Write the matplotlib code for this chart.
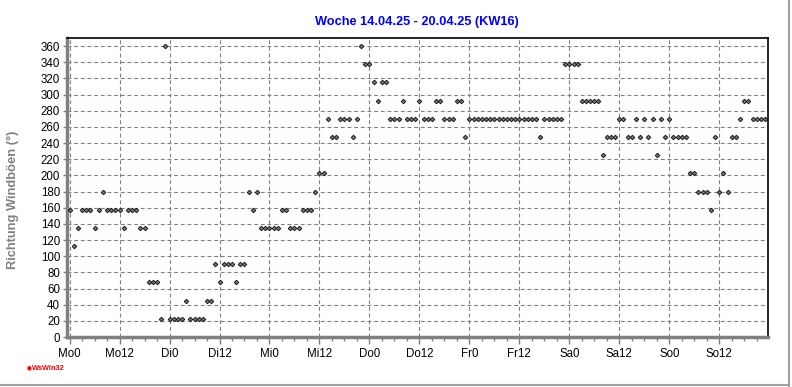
#!/usr/bin/env python3
"""
Weekly chart of gust wind direction (WsWin32 style).
"""
import numpy as np
import matplotlib
matplotlib.use('Agg')
import matplotlib.pyplot as plt
from matplotlib.lines import Line2D

plt.rcParams['font.family'] = ['Liberation Sans', 'DejaVu Sans']

title = 'Woche 14.04.25 - 20.04.25 (KW16)'
ylabel = 'Richtung Windböen (°)'

# hourly gust direction, Mo 0h .. So 23h
direction = [
    # Mo
    157.5, 112.5, 135, 157.5, 157.5, 157.5, 135, 157.5, 180, 157.5, 157.5, 157.5,
    157.5, 135, 157.5, 157.5, 157.5, 135, 135, 67.5, 67.5, 67.5, 22.5, 360,
    # Di
    22.5, 22.5, 22.5, 22.5, 45, 22.5, 22.5, 22.5, 22.5, 45, 45, 90,
    67.5, 90, 90, 90, 67.5, 90, 90, 180, 157.5, 180, 135, 135,
    # Mi
    135, 135, 135, 157.5, 157.5, 135, 135, 135, 157.5, 157.5, 157.5, 180,
    202.5, 202.5, 270, 247.5, 247.5, 270, 270, 270, 247.5, 270, 360, 337.5,
    # Do
    337.5, 315, 292.5, 315, 315, 270, 270, 270, 292.5, 270, 270, 270,
    292.5, 270, 270, 270, 292.5, 292.5, 270, 270, 270, 292.5, 292.5, 247.5,
    # Fr
    270, 270, 270, 270, 270, 270, 270, 270, 270, 270, 270, 270,
    270, 270, 270, 270, 270, 247.5, 270, 270, 270, 270, 270, 337.5,
    # Sa
    337.5, 337.5, 337.5, 292.5, 292.5, 292.5, 292.5, 292.5, 225, 247.5, 247.5, 247.5,
    270, 270, 247.5, 247.5, 270, 247.5, 270, 247.5, 270, 225, 270, 247.5,
    # So
    270, 247.5, 247.5, 247.5, 247.5, 202.5, 202.5, 180, 180, 180, 157.5, 247.5,
    180, 202.5, 180, 247.5, 247.5, 270, 292.5, 292.5, 270, 270, 270, 270,
]
hours = np.arange(len(direction))

tick_labels = ['Mo0', 'Mo12', 'Di0', 'Di12', 'Mi0', 'Mi12', 'Do0', 'Do12',
               'Fr0', 'Fr12', 'Sa0', 'Sa12', 'So0', 'So12']
yticks = list(range(0, 361, 20))

fig = plt.figure(figsize=(7.92, 3.87), dpi=100)
ax = fig.add_axes([67 / 792, 1 - 337 / 387, (768 - 67) / 792, (337 - 38) / 387])

ax.plot(hours, direction, linestyle='none', marker='D', markersize=2.3,
        markerfacecolor='#7a7a7a', markeredgecolor='#1a1a1a',
        markeredgewidth=0.7, zorder=3, clip_on=False)

ax.set_xlim(-0.62, 167.7)
ax.set_ylim(0, 370)

ax.set_xticks(np.arange(0, 168, 12))
ax.set_xticklabels(tick_labels)
ax.set_xticks(np.arange(0, 168, 3), minor=True)
ax.set_yticks(yticks)
ax.set_yticklabels([str(v) for v in yticks])

ax.tick_params(axis='x', which='major', direction='out', length=5, width=1,
               color='#808080', labelsize=8.3, pad=3)
ax.tick_params(axis='x', which='minor', direction='out', length=3, width=1,
               color='#808080')
ax.tick_params(axis='y', which='major', direction='out', length=3, width=1,
               color='#808080', labelsize=8.3, pad=2)

ax.grid(True, which='major', color='#808080', linestyle=(0, (3.5, 2.5)),
        linewidth=0.8)
ax.set_axisbelow(True)

for side in ['left', 'bottom']:
    ax.spines[side].set_color('#808080')
    ax.spines[side].set_linewidth(2.5)
for side in ['top', 'right']:
    ax.spines[side].set_color('black')
    ax.spines[side].set_linewidth(1.2)

fig.text(417 / 792, 1 - 22 / 387, title, color='#0000ff', fontsize=9.2,
         fontweight='bold', ha='center', va='center')
fig.text(13 / 792, 1 - 200 / 387, ylabel, color='#808080', fontsize=9.3,
         fontweight='bold', rotation=90, ha='center', va='center')

# WsWin32 marker bottom left
fig.text(29 / 792, 1 - 368 / 387, '\u25cf', color='#ff0000', fontsize=4,
         ha='center', va='center', family=['DejaVu Sans'])
fig.text(32 / 792, 1 - 368 / 387, 'WsWin32', color='#ff0000', fontsize=5.3,
         fontweight='bold', ha='left', va='center')

# window border
fig.add_artist(Line2D([0, 789 / 792], [1 - 385 / 387, 1 - 385 / 387],
                      transform=fig.transFigure, color='#a0a0a0', linewidth=1.5))
fig.add_artist(Line2D([789 / 792, 789 / 792], [0, 1],
                      transform=fig.transFigure, color='#a0a0a0', linewidth=1.5))

fig.savefig('out.png', dpi=100)
